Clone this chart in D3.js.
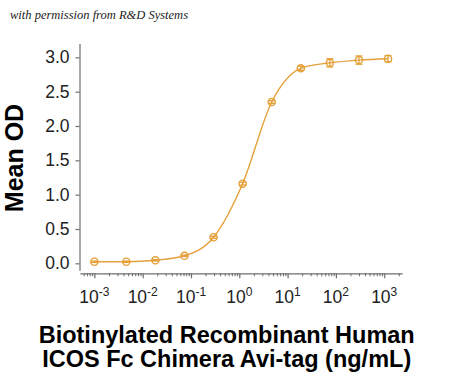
<!DOCTYPE html>
<html>
<head>
<meta charset="utf-8">
<script src="https://cdn.jsdelivr.net/npm/d3@7"></script>
<style>
  html, body { margin: 0; padding: 0; background: #fff; }
  svg { display: block; }
</style>
</head>
<body>
<svg id="chart" width="450" height="377"></svg>
<script>
// ---- data ----
const concentrations = [0.001, 0.00458, 0.0183, 0.0732, 0.293, 1.17, 4.69, 18.75, 75, 300, 1200];
const meanOD = [0.023, 0.023, 0.044, 0.11, 0.38, 1.16, 2.35, 2.84, 2.92, 2.96, 2.98];
const errOD = [0.01, 0.01, 0.01, 0.01, 0.015, 0.02, 0.02, 0.03, 0.06, 0.06, 0.045];
const yTicks = [0.0, 0.5, 1.0, 1.5, 2.0, 2.5, 3.0];
const xTickExponents = [-3, -2, -1, 0, 1, 2, 3];
const xTitleLines = ["Biotinylated Recombinant Human", "ICOS Fc Chimera Avi-tag (ng/mL)"];
const yTitle = "Mean OD";
const watermark = "with permission from R&D Systems";

// ---- layout ----
const color = "#E5A03A";
const axisColor = "#6e6e6e";
const svg = d3.select("#chart");

const x = d3.scaleLog().domain([Math.pow(10, -3.3), Math.pow(10, 3.37)]).range([79.9, 402.1]);
const y = d3.scaleLinear().domain([-0.1, 3.2]).range([270.2, 43.6]);

// watermark
svg.append("text")
  .attr("x", 10).attr("y", 19)
  .attr("font-family", "Liberation Serif, serif")
  .attr("font-style", "italic")
  .attr("font-size", 12.5)
  .attr("fill", "#222")
  .text(watermark);

// y axis
const yAxis = d3.axisLeft(y).tickValues(yTicks).tickSize(4).tickSizeOuter(0)
  .tickFormat(d3.format(".1f"));
const gy = svg.append("g").attr("transform", "translate(79.5,0)").call(yAxis);
gy.select(".domain").attr("stroke", axisColor).attr("stroke-width", 1.2);
gy.selectAll(".tick line").attr("stroke", axisColor).attr("stroke-width", 1.2);
gy.selectAll(".tick text")
  .attr("x", -10)
  .attr("font-family", "Liberation Sans, Arial, sans-serif")
  .attr("font-size", 17.5)
  .attr("fill", "#222");

// x axis: minor ticks
const [d0, d1] = x.domain();
const minorTicks = [];
for (let e = -4; e <= 3; e++) {
  for (let m = 2; m <= 9; m++) {
    const v = m * Math.pow(10, e);
    if (v >= d0 && v <= d1) minorTicks.push(v);
  }
}
const majorTicks = xTickExponents.map(e => Math.pow(10, e));
const xAxisY = 273.3;
const gxMinor = svg.append("g").attr("transform", `translate(0,${xAxisY})`)
  .call(d3.axisBottom(x).tickValues(minorTicks).tickSize(3).tickSizeOuter(0).tickFormat(""));
gxMinor.select(".domain").attr("stroke", axisColor).attr("stroke-width", 1.2);
gxMinor.selectAll(".tick line").attr("stroke", axisColor).attr("stroke-width", 1);

const gxMajor = svg.append("g").attr("transform", `translate(0,${xAxisY})`)
  .call(d3.axisBottom(x).tickValues(majorTicks).tickSize(5).tickSizeOuter(0).tickFormat(""));
gxMajor.select(".domain").remove();
gxMajor.selectAll(".tick line").attr("stroke", axisColor).attr("stroke-width", 1.2);

// x tick labels with superscripts
const lbl = svg.append("g");
xTickExponents.forEach(e => {
  const t = lbl.append("text")
    .attr("x", x(Math.pow(10, e)))
    .attr("y", 303)
    .attr("text-anchor", "middle")
    .attr("font-family", "Liberation Sans, Arial, sans-serif")
    .attr("font-size", 17.5)
    .attr("fill", "#222");
  t.append("tspan").text("10");
  t.append("tspan").attr("dy", -7).attr("font-size", 12).text(String(e));
});

// axis titles
svg.append("text")
  .attr("transform", "translate(23,158) rotate(-90)")
  .attr("text-anchor", "middle")
  .attr("font-family", "Liberation Sans, Arial, sans-serif")
  .attr("font-weight", "bold")
  .attr("font-size", 25)
  .attr("fill", "#000")
  .text(yTitle);

xTitleLines.forEach((s, i) => {
  svg.append("text")
    .attr("x", 226.7)
    .attr("y", 343 + i * 24)
    .attr("text-anchor", "middle")
    .attr("font-family", "Liberation Sans, Arial, sans-serif")
    .attr("font-weight", "bold")
    .attr("font-size", 23.5)
    .attr("fill", "#000")
    .text(s);
});

// curve
const pts = concentrations.map((c, i) => [c, meanOD[i]]);
svg.append("path")
  .datum(pts)
  .attr("fill", "none")
  .attr("stroke", color)
  .attr("stroke-width", 1.4)
  .attr("d", d3.line().x(d => x(d[0])).y(d => y(d[1])).curve(d3.curveMonotoneX));

// error bars
const eb = svg.append("g").attr("stroke", color).attr("stroke-width", 1.3);
concentrations.forEach((c, i) => {
  const cx = x(c), top = y(meanOD[i] + errOD[i]), bot = y(meanOD[i] - errOD[i]);
  eb.append("line").attr("x1", cx).attr("x2", cx).attr("y1", top).attr("y2", bot);
  eb.append("line").attr("x1", cx - 3.5).attr("x2", cx + 3.5).attr("y1", top).attr("y2", top);
  eb.append("line").attr("x1", cx - 3.5).attr("x2", cx + 3.5).attr("y1", bot).attr("y2", bot);
});

// markers
svg.append("g").selectAll("circle")
  .data(pts).join("circle")
  .attr("cx", d => x(d[0]))
  .attr("cy", d => y(d[1]))
  .attr("r", 3.6)
  .attr("fill", "none")
  .attr("stroke", color)
  .attr("stroke-width", 1.4);
</script>
</body>
</html>
